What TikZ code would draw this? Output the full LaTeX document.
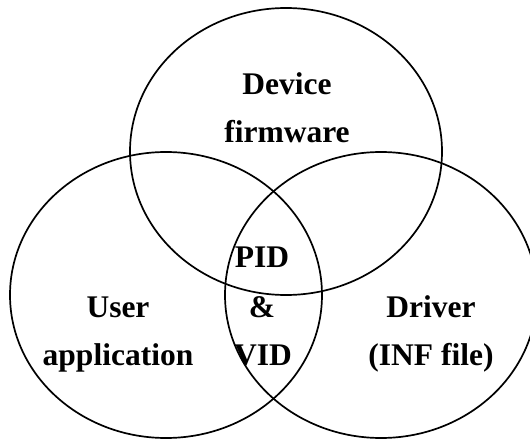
\documentclass[tikz,border=0pt]{standalone}
\usepackage{fontspec}
\setmainfont{Liberation Serif}
\begin{document}
\begin{tikzpicture}[x=1pt,y=-1pt,
  setring/.style={draw=black,line width=1.7pt},
  lbl/.style={anchor=base,inner sep=0pt,font=\fontsize{31.5}{38}\selectfont\bfseries}]
  \useasboundingbox (0,0) rectangle (530,439);
  \clip (0,0) rectangle (530,439);
  % the three overlapping sets
  \draw[setring] (286,151.5) ellipse [x radius=156, y radius=143.5];
  \draw[setring] (166,295) ellipse [x radius=156, y radius=143];
  \draw[setring] (381,295) ellipse [x radius=156, y radius=143];
  % set labels
  \node[lbl] (dev1) at (287,94) {Device};
  \node[lbl] (dev2) at (287,142) {firmware};
  \node[lbl] (usr1) at (118,317) {User};
  \node[lbl] (usr2) at (118,365) {application};
  \node[lbl] (drv1) at (431,317) {Driver};
  \node[lbl] (drv2) at (431,365) {(INF file)};
  % common intersection
  \node[lbl] (id1) at (262,267) {PID};
  \node[lbl] (id2) at (262,317) {\&};
  \node[lbl] (id3) at (263,365) {VID};
\end{tikzpicture}
\end{document}
